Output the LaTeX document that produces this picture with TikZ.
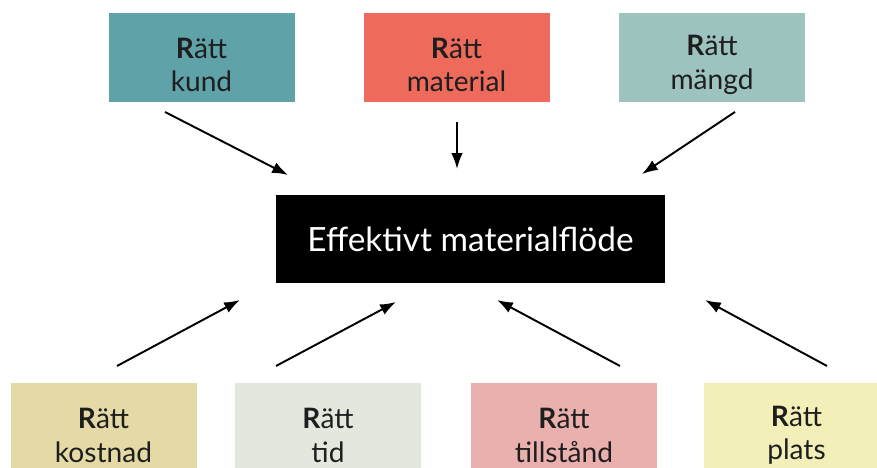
\documentclass[tikz,border=0pt]{standalone}
\usepackage{fontspec}
\setmainfont{Lato}
\usetikzlibrary{arrows.meta}
\definecolor{kundcol}{HTML}{5FA3A8}
\definecolor{materialcol}{HTML}{EE6B5C}
\definecolor{mangdcol}{HTML}{9DC3BE}
\definecolor{kostnadcol}{HTML}{E5D9A6}
\definecolor{tidcol}{HTML}{E3E8DF}
\definecolor{tillstandcol}{HTML}{E9B0AE}
\definecolor{platscol}{HTML}{F3EFB9}
\definecolor{textcol}{HTML}{1E1E1E}
\newcommand{\ratt}[1]{\rule{0pt}{1.25em}{\bfseries R}ätt\\#1}
\tikzset{
	box/.style    = {rectangle, minimum height=1.78cm, minimum width=3.72cm, align=center,
	                 text=textcol, font=\fontsize{16}{19}\selectfont, inner sep=0pt},
	center/.style = {rectangle, fill=black, text=white, minimum height=1.76cm, minimum width=7.78cm,
	                 font=\fontsize{19}{22}\selectfont},
	link/.style   = {->, line width=1.1pt},
}

\begin{document}
\begin{tikzpicture}[>={Latex[length=9pt,width=6.5pt]}]
		\useasboundingbox (0,0) rectangle (17.54,9.36);
		\clip (0,0) rectangle (17.54,9.36);
		% Main node
		\node[center] (flow) at (9.41,4.58) {Effektivt materialflöde};
		
		% Upper row
		\node[box, fill=kundcol    ] (kund)     at (4.03,8.21)  {\ratt{kund}};
		\node[box, fill=materialcol] (material) at (9.13,8.21)  {\ratt{material}};
		\node[box, fill=mangdcol   ] (mangd)    at (14.24,8.21) {\ratt{mängd}};
		
		% Lower row
		\node[box, fill=kostnadcol  ] (kostnad)   at (2.07,0.80)  {\ratt{kostnad}};
		\node[box, fill=tidcol      ] (tid)       at (6.56,0.80)  {\ratt{tid}};
		\node[box, fill=tillstandcol] (tillstand) at (11.28,0.80) {\ratt{tillstånd}};
		\node[box, fill=platscol    ] (plats)     at (15.93,0.80) {\ratt{plats}};
		
		% Arrow ends
		\coordinate (kund-a)      at (3.30,7.12);
		\coordinate (kund-b)      at (5.76,5.86);
		\coordinate (material-a)  at (9.14,6.92);
		\coordinate (material-b)  at (9.14,5.98);
		\coordinate (mangd-a)     at (14.70,7.12);
		\coordinate (mangd-b)     at (12.84,5.88);
		\coordinate (kostnad-a)   at (2.34,2.04);
		\coordinate (kostnad-b)   at (4.80,3.36);
		\coordinate (tid-a)       at (5.52,2.04);
		\coordinate (tid-b)       at (7.92,3.32);
		\coordinate (tillstand-a) at (12.40,2.04);
		\coordinate (tillstand-b) at (9.94,3.36);
		\coordinate (plats-a)     at (16.54,2.04);
		\coordinate (plats-b)     at (14.10,3.36);
		
		% Connect everything together
		\foreach \n in {kund, material, mangd, kostnad, tid, tillstand, plats}
			\draw[link] (\n-a) -- (\n-b);
	\end{tikzpicture}
\end{document}
